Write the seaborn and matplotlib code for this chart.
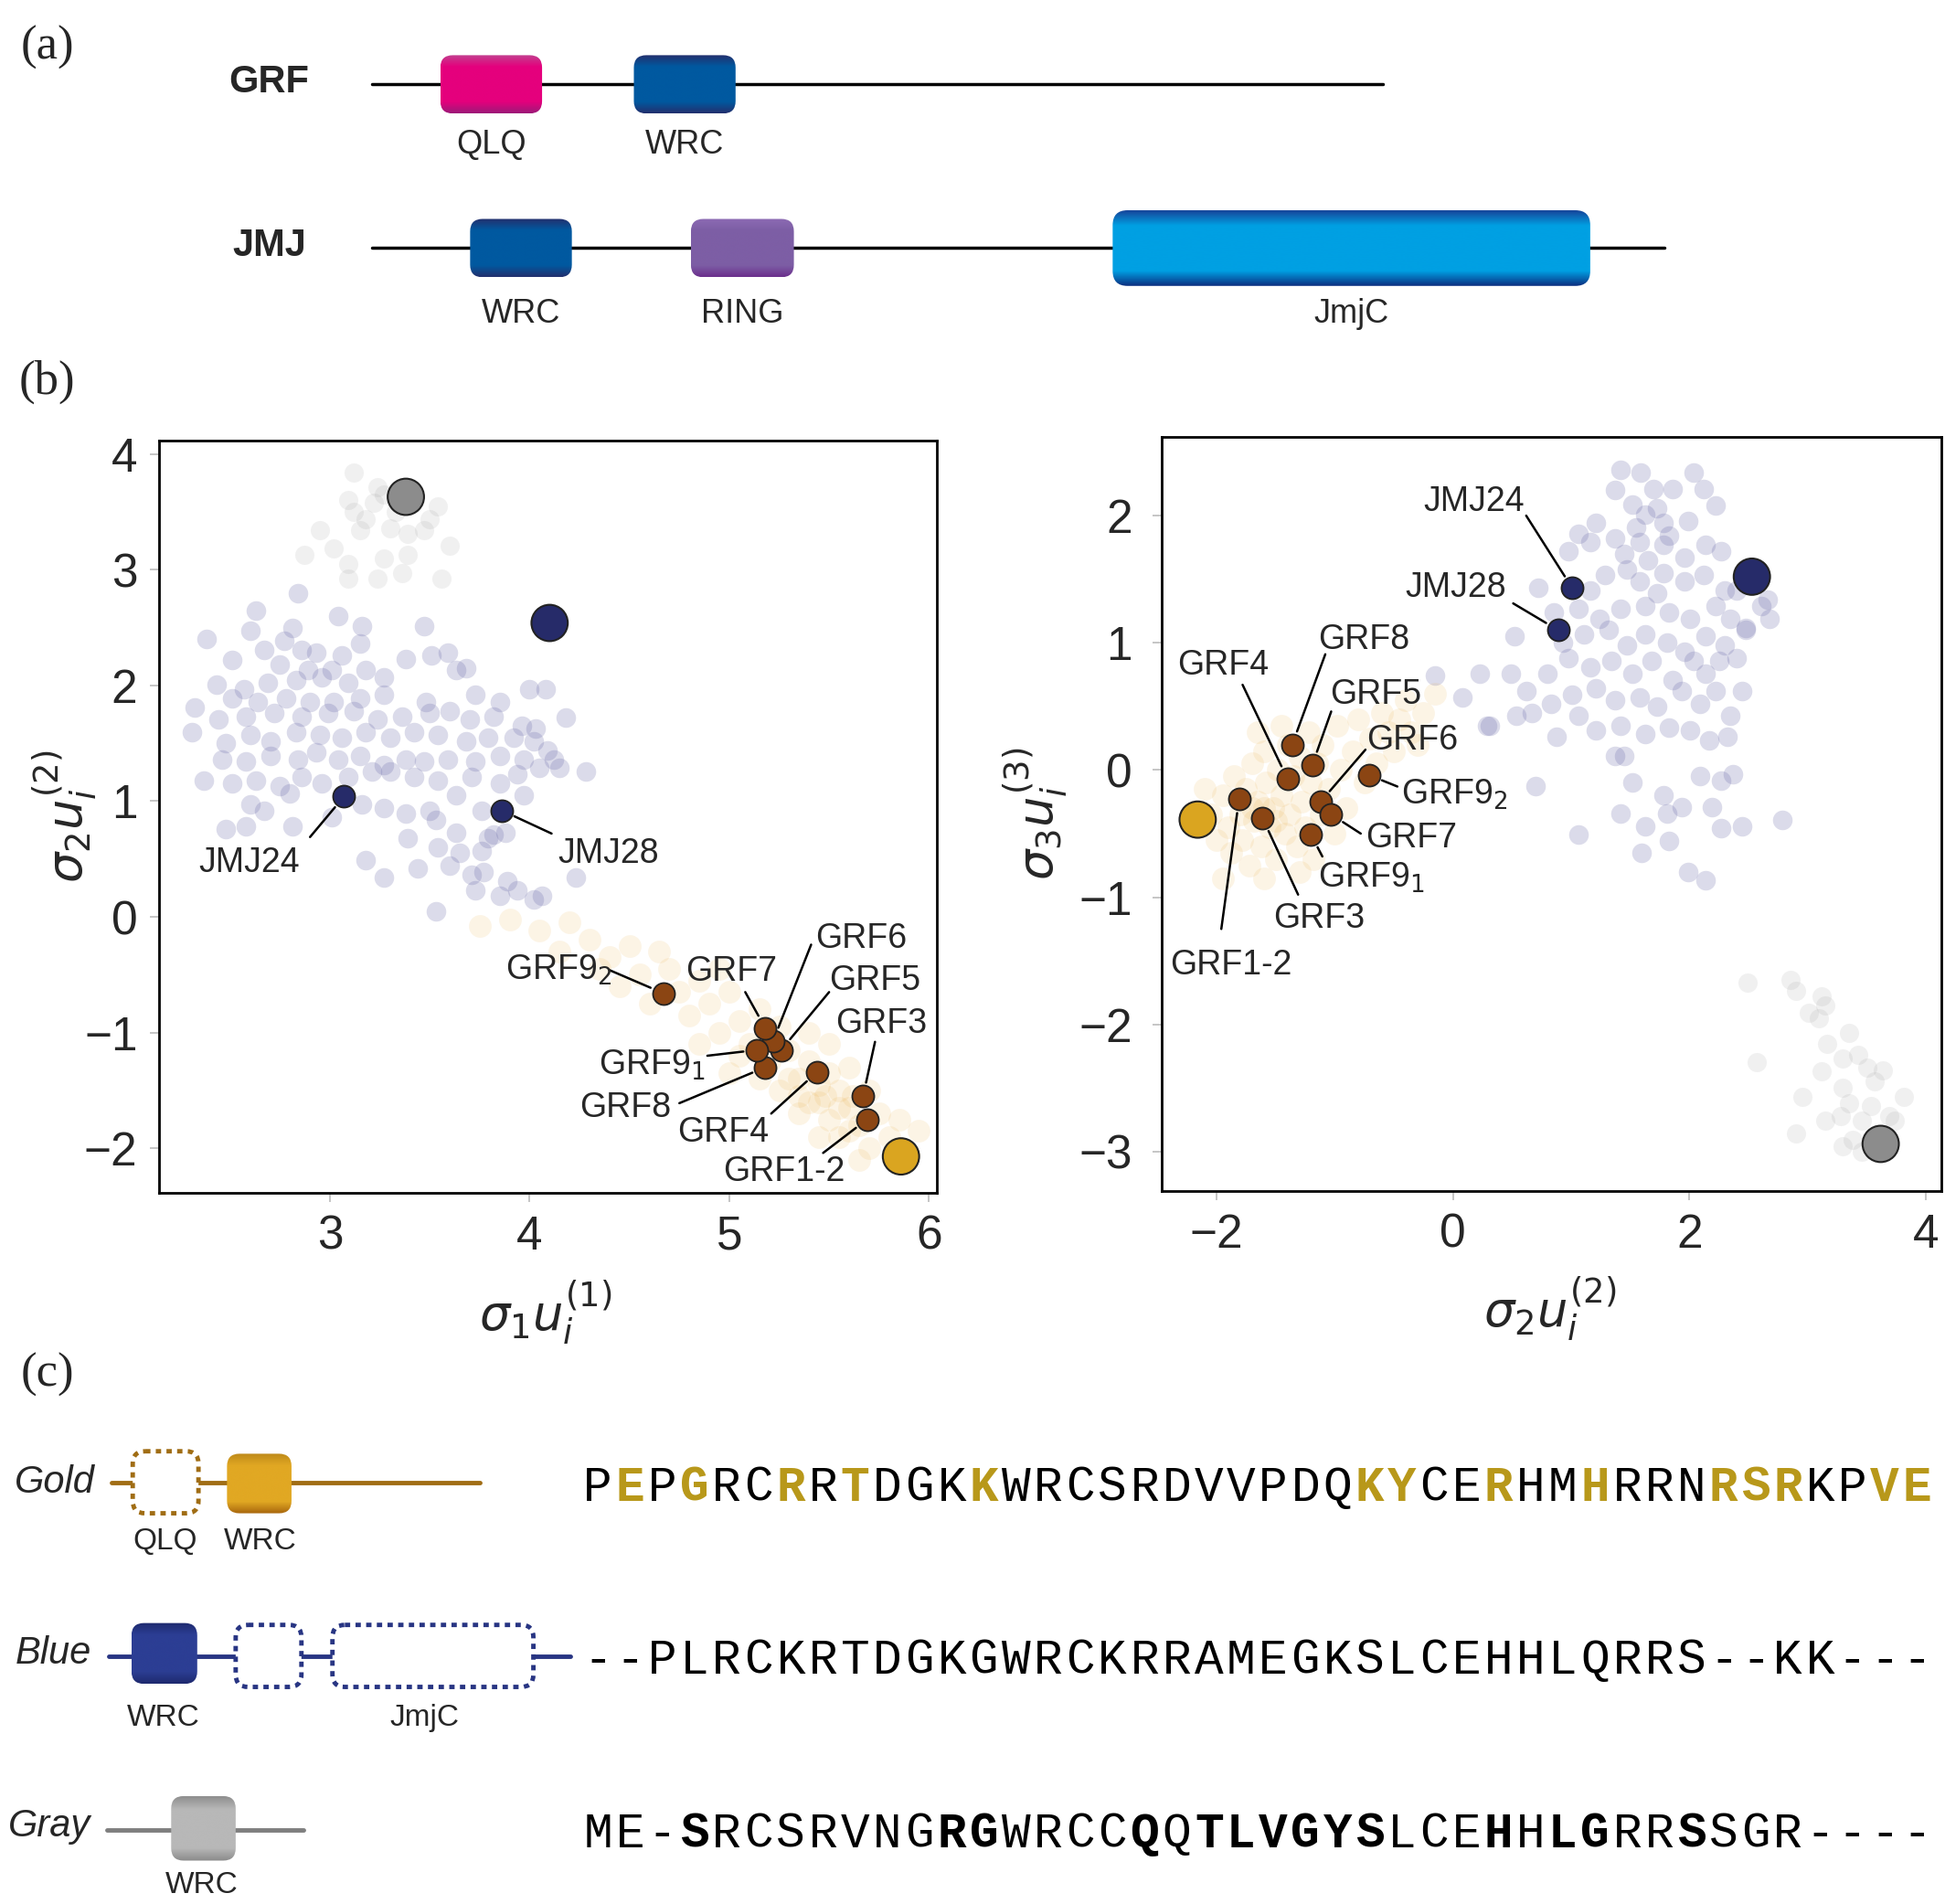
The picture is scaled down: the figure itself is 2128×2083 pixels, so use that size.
import numpy as np
import pandas as pd
import matplotlib
matplotlib.use('Agg')
import matplotlib.pyplot as plt
from matplotlib.patches import FancyBboxPatch
from matplotlib.colors import LinearSegmentedColormap
import seaborn as sns

sns.set_style('white')
plt.rcParams['font.family'] = ['Liberation Sans', 'DejaVu Sans']
plt.rcParams['mathtext.fontset'] = 'dejavusans'

# ---------------- panel (b) data ----------------
grf_names = ['GRF1-2', 'GRF3', 'GRF4', 'GRF5', 'GRF6', 'GRF7', 'GRF8', 'GRF9$_1$', 'GRF9$_2$']
jmj_names = ['JMJ24', 'JMJ28']

# left: sigma1 u1 (x) vs sigma2 u2 (y)
left_grf_x = [5.69, 5.67, 5.44, 5.26, 5.22, 5.18, 5.18, 5.14, 4.67]
left_grf_y = [-1.75, -1.55, -1.34, -1.15, -1.07, -0.96, -1.30, -1.15, -0.66]
left_jmj_x = [3.07, 3.86]
left_jmj_y = [1.04, 0.92]
left_ref_x = [5.86, 4.10, 3.38]      # gold, blue, gray reference
left_ref_y = [-2.07, 2.54, 3.63]

# right: sigma2 u2 (x) vs sigma3 u3 (y)
right_grf_x = [-1.81, -1.61, -1.40, -1.19, -1.12, -1.03, -1.36, -1.20, -0.71]
right_grf_y = [-0.23, -0.38, -0.07, 0.04, -0.25, -0.35, 0.20, -0.51, -0.04]
right_jmj_x = [1.01, 0.89]
right_jmj_y = [1.43, 1.10]
right_ref_x = [-2.16, 2.53, 3.62]
right_ref_y = [-0.39, 1.52, -2.94]

ref_colors = ['#DAA520', '#262B69', '#8C8C8C']

# background sequences
left_blue_cloud = [
    (2.84, 2.80), (2.63, 2.65), (3.04, 2.60), (2.60, 2.47), (2.77, 2.39), (2.38, 2.40), (3.47, 2.51),
    (3.16, 2.51), (2.81, 2.50), (2.67, 2.31), (2.86, 2.31), (2.93, 2.28), (3.06, 2.26), (3.15, 2.36),
    (2.51, 2.22), (2.75, 2.18), (2.89, 2.13), (3.01, 2.13), (3.18, 2.13), (3.27, 2.07), (3.51, 2.26),
    (3.59, 2.28), (3.38, 2.23), (2.43, 2.01), (2.57, 1.97), (2.69, 2.02), (2.83, 2.05), (2.96, 2.07),
    (3.09, 2.02), (3.63, 2.13), (3.68, 2.15), (2.32, 1.81), (2.51, 1.89), (2.64, 1.86), (2.78, 1.89),
    (2.90, 1.86), (3.02, 1.86), (3.15, 1.89), (3.27, 1.92), (3.48, 1.86), (3.73, 1.92), (3.85, 1.86),
    (4.00, 1.97), (4.08, 1.97), (2.31, 1.60), (2.44, 1.71), (2.58, 1.73), (2.72, 1.76), (2.86, 1.73),
    (2.99, 1.76), (3.12, 1.78), (3.24, 1.71), (3.36, 1.73), (3.50, 1.76), (3.60, 1.78), (3.70, 1.71),
    (3.82, 1.73), (3.96, 1.65), (4.03, 1.63), (4.18, 1.72), (2.48, 1.50), (2.60, 1.57), (2.70, 1.52),
    (2.83, 1.60), (2.95, 1.57), (3.06, 1.55), (3.18, 1.60), (3.30, 1.55), (3.42, 1.60), (3.54, 1.57),
    (3.68, 1.52), (3.79, 1.55), (3.92, 1.55), (4.02, 1.52), (4.09, 1.44), (2.37, 1.18), (2.46, 1.36),
    (2.58, 1.34), (2.70, 1.39), (2.84, 1.36), (2.93, 1.42), (3.04, 1.36), (3.15, 1.39), (3.27, 1.31),
    (3.38, 1.36), (3.47, 1.34), (3.59, 1.36), (3.73, 1.34), (3.85, 1.39), (3.97, 1.36), (4.12, 1.36),
    (4.15, 1.29), (4.28, 1.26), (2.51, 1.15), (2.63, 1.18), (2.75, 1.13), (2.86, 1.21), (2.96, 1.15),
    (3.09, 1.21), (3.21, 1.26), (3.30, 1.26), (3.42, 1.21), (3.54, 1.18), (3.71, 1.21), (3.85, 1.15),
    (3.94, 1.23), (4.05, 1.29), (2.60, 0.97), (2.67, 0.92), (2.80, 1.07), (3.16, 0.97), (3.27, 0.94),
    (3.38, 0.89), (3.50, 0.92), (3.63, 1.05), (3.76, 0.92), (3.97, 1.05), (2.48, 0.76), (2.58, 0.78),
    (2.81, 0.78), (3.01, 0.86), (3.53, 0.84), (3.63, 0.73), (3.79, 0.68), (3.88, 0.73), (3.18, 0.49),
    (3.39, 0.68), (3.54, 0.60), (3.65, 0.55), (3.76, 0.57), (3.82, 0.71), (3.27, 0.34), (3.44, 0.42),
    (3.60, 0.44), (3.71, 0.36), (3.77, 0.39), (3.89, 0.31), (4.06, 0.18), (3.94, 0.23), (4.23, 0.34),
    (3.73, 0.23), (3.85, 0.18), (3.53, 0.05), (4.02, 0.15),
]
left_gray_cloud = [
    (3.12, 3.84), (3.24, 3.71), (3.27, 3.65), (3.22, 3.58), (3.09, 3.60), (3.12, 3.50), (3.33, 3.50),
    (3.50, 3.44), (3.54, 3.55), (2.95, 3.34), (3.15, 3.34), (3.30, 3.36), (3.39, 3.31), (3.02, 3.18),
    (2.87, 3.13), (3.60, 3.21), (3.09, 3.05), (3.27, 3.10), (3.39, 3.13), (3.24, 2.92), (3.09, 2.92),
    (3.56, 2.92), (3.36, 2.97), (3.18, 3.44), (3.47, 3.34),
]
left_gold_cloud = [
    (3.75, -0.08), (3.90, -0.02), (4.05, -0.12), (4.20, -0.05), (4.30, -0.20), (4.15, -0.30), (4.40, -0.35),
    (4.50, -0.25), (4.55, -0.50), (4.45, -0.60), (4.60, -0.75), (4.70, -0.45), (4.75, -0.65), (4.80, -0.85),
    (4.85, -0.55), (4.90, -0.75), (4.95, -1.00), (5.00, -0.65), (5.05, -0.90), (5.10, -1.10), (5.15, -0.80),
    (5.20, -1.25), (5.25, -0.95), (5.30, -1.40), (5.30, -1.15), (5.35, -1.55), (5.40, -1.25), (5.45, -1.60),
    (5.45, -1.45), (5.50, -1.75), (5.50, -1.35), (5.55, -1.50), (5.55, -1.90), (5.60, -1.65), (5.65, -1.80),
    (5.70, -1.50), (5.70, -2.00), (5.75, -1.70), (5.80, -1.90), (5.85, -1.75), (5.90, -2.05), (5.95, -1.85),
    (5.35, -1.70), (5.25, -1.50), (5.15, -1.40), (5.05, -1.20), (4.95, -0.45), (4.65, -0.30), (4.35, -0.45),
    (5.60, -1.30), (5.40, -1.00), (5.50, -1.10), (4.85, -1.10), (5.00, -1.35), (5.65, -2.10), (5.45, -1.90),
    (5.40, -1.60), (5.55, -1.65), (5.60, -1.85), (5.35, -1.40), (5.48, -1.55), (5.62, -1.55),
]
right_blue_cloud = [
    (1.42, 2.36), (1.59, 2.34), (2.04, 2.34), (1.37, 2.20), (1.70, 2.21), (1.86, 2.21), (2.12, 2.21),
    (2.22, 2.08), (1.52, 2.09), (1.73, 2.06), (1.63, 2.01), (1.21, 1.94), (1.78, 1.94), (1.99, 1.96),
    (1.06, 1.86), (1.55, 1.91), (1.16, 1.79), (1.37, 1.82), (1.58, 1.79), (1.78, 1.77), (2.14, 1.77),
    (2.27, 1.72), (0.98, 1.72), (1.45, 1.70), (1.65, 1.65), (1.96, 1.67), (1.83, 1.84), (1.29, 1.53),
    (1.47, 1.58), (1.58, 1.48), (1.78, 1.55), (1.96, 1.48), (2.12, 1.53), (2.30, 1.41), (1.16, 1.41),
    (1.73, 1.39), (2.40, 1.41), (2.61, 1.29), (0.85, 1.24), (1.06, 1.27), (1.24, 1.19), (1.42, 1.27),
    (1.63, 1.29), (1.83, 1.24), (2.01, 1.19), (2.22, 1.29), (2.35, 1.19), (2.48, 1.12), (2.68, 1.19),
    (2.66, 1.34), (0.93, 1.00), (1.11, 1.07), (1.32, 1.10), (1.47, 0.98), (1.63, 1.07), (1.81, 1.00),
    (1.96, 0.93), (2.14, 1.05), (2.30, 0.98), (2.40, 0.88), (2.48, 1.10), (0.80, 0.76), (0.98, 0.88),
    (1.16, 0.81), (1.34, 0.86), (1.52, 0.76), (1.68, 0.86), (1.86, 0.71), (2.04, 0.86), (2.14, 0.76),
    (2.25, 0.86), (2.45, 0.62), (0.62, 0.62), (0.83, 0.52), (1.01, 0.59), (1.21, 0.64), (1.37, 0.55),
    (1.58, 0.57), (1.73, 0.50), (1.94, 0.62), (2.09, 0.52), (2.22, 0.62), (2.35, 0.43), (0.29, 0.35),
    (0.54, 0.43), (0.67, 0.45), (0.88, 0.26), (1.06, 0.43), (1.21, 0.31), (1.42, 0.35), (1.63, 0.28),
    (1.83, 0.33), (2.01, 0.31), (2.17, 0.23), (2.32, 0.26), (1.37, 0.11), (1.45, 0.11), (2.09, -0.05),
    (2.27, -0.08), (2.37, -0.03), (0.70, -0.13), (1.52, -0.10), (1.78, -0.20), (1.94, -0.29), (2.19, -0.29),
    (1.42, -0.34), (1.63, -0.44), (1.81, -0.34), (2.45, -0.44), (2.79, -0.39), (2.27, -0.46), (1.06, -0.51),
    (1.83, -0.56), (1.60, -0.65), (1.99, -0.80), (2.14, -0.87), (-0.15, 0.74), (0.23, 0.76), (0.49, 0.76),
    (0.08, 0.57), (0.31, 0.35), (0.72, 1.43), (0.52, 1.05),
]
right_gray_cloud = [
    (2.49, -1.67), (2.86, -1.65), (2.90, -1.74), (3.12, -1.78), (3.15, -1.85), (3.10, -1.95), (3.01, -1.91),
    (3.35, -2.07), (3.17, -2.15), (3.43, -2.24), (3.30, -2.27), (2.57, -2.30), (3.12, -2.37), (3.51, -2.34),
    (3.64, -2.36), (3.57, -2.45), (3.30, -2.50), (2.96, -2.57), (3.82, -2.57), (3.35, -2.62), (3.54, -2.64),
    (3.69, -2.72), (3.28, -2.72), (3.15, -2.76), (3.46, -2.76), (3.74, -2.76), (2.90, -2.86), (3.38, -2.91),
    (3.46, -3.00), (3.30, -2.96),
]
right_gold_cloud = [
    (-2.05, -0.35), (-2.00, -0.55), (-1.95, -0.20), (-1.90, -0.45), (-1.88, -0.65), (-1.85, -0.05), (-1.80, -0.35),
    (-1.78, -0.55), (-1.75, -0.15), (-1.72, -0.75), (-1.70, 0.05), (-1.68, -0.40), (-1.65, -0.25), (-1.62, -0.60),
    (-1.60, 0.15), (-1.58, -0.10), (-1.55, -0.45), (-1.52, -0.30), (-1.50, -0.70), (-1.48, 0.00), (-1.45, -0.20),
    (-1.42, -0.50), (-1.40, 0.20), (-1.38, -0.35), (-1.35, -0.05), (-1.32, -0.60), (-1.30, 0.10), (-1.28, -0.25),
    (-1.25, -0.45), (-1.22, 0.30), (-1.20, -0.10), (-1.18, -0.70), (-1.15, 0.05), (-1.12, -0.35), (-1.10, 0.20),
    (-1.05, -0.15), (-1.00, -0.50), (-0.98, 0.35), (-0.95, 0.00), (-0.90, -0.30), (-0.85, 0.15), (-0.80, 0.40),
    (-0.75, -0.10), (-0.70, 0.25), (-0.65, 0.05), (-0.60, 0.45), (-0.55, 0.30), (-0.50, 0.15), (-0.45, 0.40),
    (-0.40, 0.55), (-0.35, 0.30), (-2.10, -0.15), (-1.95, -0.85), (-1.60, -0.85), (-1.30, -0.80), (-1.65, 0.30),
    (-1.45, 0.35), (-0.25, 0.45), (-0.15, 0.60), (-0.30, 0.20), (-1.60, -0.30), (-1.50, -0.40), (-1.70, -0.30),
]

# label placement: text x, text baseline y, alignment, line start x, line start y
left_grf_text = [(4.97, -2.28, 'left', 5.47, -2.04), (5.53, -1.00, 'left', 5.73, -1.08),
                 (4.74, -1.94, 'left', 5.21, -1.70), (5.50, -0.63, 'left', 5.50, -0.65),
                 (5.43, -0.265, 'left', 5.41, -0.24), (5.01, -0.555, 'center', 5.08, -0.65),
                 (4.71, -1.73, 'right', 4.75, -1.61), (4.88, -1.36, 'right', 4.89, -1.20),
                 (4.41, -0.54, 'right', 4.40, -0.46)]
left_jmj_text = [(2.34, 0.39, 'left', 2.90, 0.69), (4.14, 0.47, 'left', 4.11, 0.72)]
right_grf_text = [(-2.39, -1.61, 'left', -1.96, -1.25), (-1.52, -1.24, 'left', -1.31, -0.98),
                  (-2.33, 0.75, 'left', -1.78, 0.67), (-1.04, 0.52, 'left', -1.03, 0.46),
                  (-0.73, 0.16, 'left', -0.74, 0.16), (-0.74, -0.605, 'left', -0.78, -0.50),
                  (-1.14, 0.95, 'left', -1.08, 0.91), (-1.14, -0.92, 'left', -1.105, -0.68),
                  (-0.435, -0.27, 'left', -0.47, -0.13)]
right_jmj_text = [(0.61, 2.04, 'right', 0.62, 2.00), (0.45, 1.36, 'right', 0.51, 1.31)]

# ---------------- panel (a) / (c) data ----------------
# protein schematics: backbone start/end and domains (start, end) in drawing units
grf_backbone = (300, 1115)
grf_domains = {'QLQ': (355, 437), 'WRC': (511, 593)}
jmj_backbone = (300, 1342)
jmj_domains = {'WRC': (379, 461), 'RING': (557, 640), 'JmjC': (897, 1282)}

gold_seq = 'PEPGRCRRTDGKKWRCSRDVVPDQKYCERHMHRRNRSRKPVE'
blue_seq = '--PLRCKRTDGKGWRCKRRAMEGKSLCEHHLQRRS--KK---'
gray_seq = 'ME-SRCSRVNGRGWRCCQQTLVGYSLCEHHLGRRSSGR----'
gold_marked = [1, 3, 6, 8, 12, 24, 25, 28, 31, 35, 36, 37, 40, 41]
gray_marked = [3, 11, 12, 17, 19, 20, 21, 22, 23, 24, 28, 30, 31, 34]

fig = plt.figure(figsize=(21.28, 20.83), dpi=100)


def grad_cmap(edge_top, mid, edge_bot):
    return LinearSegmentedColormap.from_list(
        'g', [(0, edge_top), (0.2, mid), (0.8, mid), (1, edge_bot)])


def domain(ax, x0, x1, yc, h, cmap, r=10):
    p = FancyBboxPatch((x0, yc - h / 2), x1 - x0, h,
                       boxstyle=f'round,pad=0,rounding_size={r}',
                       fc='none', ec='none', zorder=3)
    ax.add_patch(p)
    g = np.linspace(0, 1, 200).reshape(-1, 1)
    im = ax.imshow(g, cmap=cmap, extent=(x0, x1, yc + h / 2, yc - h / 2),
                   aspect='auto', origin='upper', zorder=3, interpolation='bicubic')
    im.set_clip_path(p)


def dashed_domain(ax, x0, x1, yc, h, color, r=10):
    p = FancyBboxPatch((x0, yc - h / 2), x1 - x0, h,
                       boxstyle=f'round,pad=0,rounding_size={r}',
                       fc='white', ec=color, lw=3.5, ls=(0, (1.2, 1.2)), zorder=3)
    ax.add_patch(p)


# ---------------- panel (a) ----------------
ax_a = fig.add_axes([0, 0.8, 1, 0.2])
ax_a.set_xlim(0, 1568)
ax_a.set_ylim(307, 0)
ax_a.axis('off')

cm_qlq = grad_cmap('#C2408F', '#E5007D', '#9C1A78')
cm_wrc = grad_cmap('#23306E', '#0059A0', '#23306E')
cm_ring = grad_cmap('#8C6BB3', '#7D5EA5', '#6B2F8C')
cm_jmjc = grad_cmap('#17459A', '#00A0E3', '#0C2F80')
dom_cmaps = {'QLQ': cm_qlq, 'WRC': cm_wrc, 'RING': cm_ring, 'JmjC': cm_jmjc}

rows_a = [('GRF', grf_backbone, grf_domains, 68, 117),
          ('JMJ', jmj_backbone, jmj_domains, 200, 253)]
for name, bb, doms, yc, ylab in rows_a:
    ax_a.plot(bb, [yc, yc], color='black', lw=2.5, zorder=1)
    ax_a.text(217, yc - 2, name, ha='center', va='center', fontsize=30, fontweight='bold')
    for dname, (s, e) in doms.items():
        h = 61 if dname == 'JmjC' else 47
        domain(ax_a, s, e, yc, h, dom_cmaps[dname], r=12 if dname == 'JmjC' else 10)
        ax_a.text((s + e) / 2, ylab, dname, ha='center', va='center', fontsize=26)

# ---------------- panel (b) ----------------
ax_l = fig.add_axes([0.0818, 0.3735, 0.3999, 0.3951])
ax_r = fig.add_axes([0.5973, 0.3745, 0.4008, 0.3961])


def draw_scatter(ax, blue, gray, gold, grf_x, grf_y, jmj_x, jmj_y, ref_x, ref_y,
                 grf_text, jmj_text):
    for cloud, col, a, s in [(gray, '#8A8A8A', 0.12, 230), (blue, '#6A6AA8', 0.24, 240),
                             (gold, '#E8A530', 0.12, 320)]:
        df = pd.DataFrame(cloud, columns=['x', 'y'])
        sns.scatterplot(data=df, x='x', y='y', ax=ax, color=col, alpha=a, s=s,
                        linewidth=0, legend=False, zorder=2)
    df_ref = pd.DataFrame({'x': ref_x, 'y': ref_y, 'c': ['gold', 'blue', 'gray']})
    sns.scatterplot(data=df_ref, x='x', y='y', hue='c', ax=ax, s=820,
                    palette=dict(zip(['gold', 'blue', 'gray'], ref_colors)),
                    edgecolor='#222222', linewidth=1.5, legend=False, zorder=4)
    df_j = pd.DataFrame({'x': jmj_x, 'y': jmj_y})
    sns.scatterplot(data=df_j, x='x', y='y', ax=ax, color='#262B69', s=300,
                    edgecolor='#222222', linewidth=1.3, legend=False, zorder=4)
    df_g = pd.DataFrame({'x': grf_x, 'y': grf_y})
    sns.scatterplot(data=df_g, x='x', y='y', ax=ax, color='#8B4513', s=300,
                    edgecolor='#222222', linewidth=1.3, legend=False, zorder=4)
    for names, px, py, txt in [(grf_names, grf_x, grf_y, grf_text),
                               (jmj_names, jmj_x, jmj_y, jmj_text)]:
        for n, x, y, (tx, ty, ha, lx, ly) in zip(names, px, py, txt):
            ax.text(tx, ty, n, ha=ha, va='baseline', fontsize=27, zorder=5)
            ax.annotate('', xy=(x, y), xytext=(lx, ly),
                        arrowprops=dict(arrowstyle='-', color='black', lw=1.8,
                                        shrinkA=0, shrinkB=11), zorder=3)


draw_scatter(ax_l, left_blue_cloud, left_gray_cloud, left_gold_cloud,
             left_grf_x, left_grf_y, left_jmj_x, left_jmj_y, left_ref_x, left_ref_y,
             left_grf_text, left_jmj_text)
draw_scatter(ax_r, right_blue_cloud, right_gray_cloud, right_gold_cloud,
             right_grf_x, right_grf_y, right_jmj_x, right_jmj_y, right_ref_x, right_ref_y,
             right_grf_text, right_jmj_text)

ax_l.set_xlim(2.144, 6.04)
ax_l.set_ylim(-2.385, 4.116)
ax_l.set_xticks([3, 4, 5, 6])
ax_l.set_yticks([-2, -1, 0, 1, 2, 3, 4])
ax_r.set_xlim(-2.464, 4.133)
ax_r.set_ylim(-3.31, 2.62)
ax_r.set_xticks([-2, 0, 2, 4])
ax_r.set_yticks([-3, -2, -1, 0, 1, 2])

ax_l.set_xlabel(r'$\sigma_1 u_i^{(1)}$', fontsize=38, va='center')
ax_l.set_ylabel(r'$\sigma_2 u_i^{(2)}$', fontsize=38, va='center')
ax_r.set_xlabel(r'$\sigma_2 u_i^{(2)}$', fontsize=38, va='center')
ax_r.set_ylabel(r'$\sigma_3 u_i^{(3)}$', fontsize=38, va='center')
ax_l.xaxis.set_label_coords(0.497, -0.159)
ax_l.yaxis.set_label_coords(-0.1215, 0.5)
ax_r.xaxis.set_label_coords(0.498, -0.156)
ax_r.yaxis.set_label_coords(-0.162, 0.5)

for ax in (ax_l, ax_r):
    for sp in ax.spines.values():
        sp.set_linewidth(2)
        sp.set_color('black')
    ax.tick_params(axis='both', labelsize=37, length=7, width=1.2, color='#BBBBBB',
                   direction='out', pad=10, bottom=True, left=True)
ax_r.tick_params(axis='y', pad=16)

# ---------------- panel (c) ----------------
ax_c = fig.add_axes([0, 0, 1, 445 / 1535])
ax_c.set_xlim(0, 1568)
ax_c.set_ylim(1535, 1090)
ax_c.axis('off')

gold_line, blue_line, gray_line = '#A06D14', '#283583', '#7F7F7F'
cm_gold = grad_cmap('#BE8A1A', '#E1A823', '#A8660E')
cm_navy = grad_cmap('#1E2A6E', '#2C3E94', '#1E2A6E')
cm_gray = grad_cmap('#8E8E8E', '#B8B8B8', '#8A8A8A')

# Gold row
ax_c.plot([90, 387], [1195, 1195], color=gold_line, lw=3.5, zorder=1)
dashed_domain(ax_c, 107, 160, 1195, 50, gold_line)
domain(ax_c, 183, 235, 1196, 48, cm_gold)
ax_c.text(133, 1243, 'QLQ', ha='center', va='center', fontsize=24)
ax_c.text(210, 1243, 'WRC', ha='center', va='center', fontsize=24)
ax_c.text(44, 1195, 'Gold', ha='center', va='center', fontsize=30, style='italic')

# Blue row
ax_c.plot([88, 460], [1335, 1335], color=blue_line, lw=3.5, zorder=1)
domain(ax_c, 106, 159, 1333, 49, cm_navy)
dashed_domain(ax_c, 190, 243, 1335, 50, blue_line)
dashed_domain(ax_c, 268, 430, 1335, 50, blue_line)
ax_c.text(132, 1385, 'WRC', ha='center', va='center', fontsize=24)
ax_c.text(342, 1385, 'JmjC', ha='center', va='center', fontsize=24)
ax_c.text(43, 1333, 'Blue', ha='center', va='center', fontsize=30, style='italic')

# Gray row
ax_c.plot([86, 245], [1475, 1475], color=gray_line, lw=3.5, zorder=1)
domain(ax_c, 138, 190, 1474, 52, cm_gray)
ax_c.text(163, 1520, 'WRC', ha='center', va='center', fontsize=24)
ax_c.text(40, 1472, 'Gray', ha='center', va='center', fontsize=30, style='italic')

# aligned sequences
seq_x0, pitch = 469, 25.93
for seq, base, marked, mcol in [(gold_seq, 1210, gold_marked, '#B8981A'),
                                (blue_seq, 1349, [], 'black'),
                                (gray_seq, 1489, gray_marked, 'black')]:
    for i, ch in enumerate(seq):
        hit = i in marked
        ax_c.text(seq_x0 + (i + 0.5) * pitch, base, ch, ha='center', va='baseline',
                  fontsize=38, family='Liberation Mono',
                  fontweight='bold' if hit else 'normal',
                  color=mcol if hit else 'black')

# panel letters
for lab, y in [('(a)', 0.9752), ('(b)', 0.7993), ('(c)', 0.2782)]:
    fig.text(0.0242, y, lab, ha='center', va='center', fontsize=38, family='Liberation Serif')

fig.savefig('out.png', dpi=100)
